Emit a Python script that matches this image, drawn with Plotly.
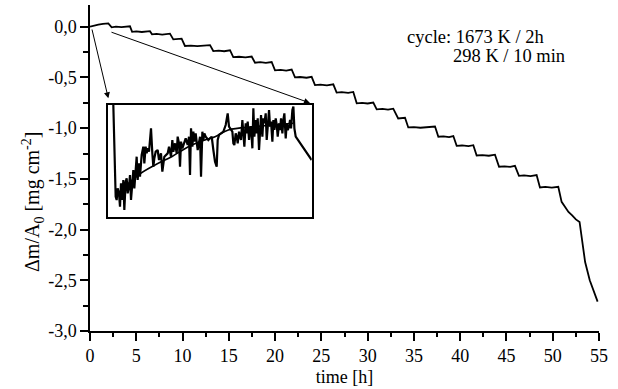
import plotly.graph_objects as go

# ---- main curve: time [h] vs mass change [mg cm^-2]
time_h = [0, 0.4, 0.9, 1.4, 1.98, 2.34, 2.8, 3.4, 3.9, 4.32, 4.55, 5.0, 5.6, 6.1, 6.48,
          6.7, 7.2, 7.8, 8.3, 8.64, 9.0, 9.5, 9.9, 10.26, 10.9, 11.6, 12.3, 12.97, 13.32,
          13.9, 14.5, 15.13, 15.48, 16.1, 16.8, 17.47, 17.83, 18.4, 19.0, 19.63, 19.99,
          20.6, 21.2, 21.79, 22.15, 22.7, 23.4, 23.95, 24.31, 24.9, 25.6, 26.29, 26.65,
          27.2, 27.9, 28.45, 28.82, 29.4, 30.0, 30.61, 30.98, 31.6, 32.2, 32.77, 33.3,
          33.7, 34.04, 34.39, 35.0, 35.7, 36.5, 37.28, 37.64, 38.2, 38.8, 39.26, 39.62,
          40.2, 40.9, 41.42, 41.78, 42.4, 43.1, 43.76, 44.2, 44.8, 45.4, 45.92, 46.35,
          46.9, 47.6, 48.26, 48.62, 49.2, 49.9, 50.6, 50.96, 51.3, 51.7, 52.1, 52.5,
          52.9, 53.15, 53.5, 54.0, 54.4, 54.85]
mass = [0.0, 0.012, 0.02, 0.028, 0.033, -0.006, 0.0, -0.004, 0.002, 0.004, -0.05, -0.046,
        -0.052, -0.047, -0.044, -0.075, -0.071, -0.077, -0.072, -0.068, -0.125, -0.122,
        -0.118, -0.19, -0.186, -0.192, -0.185, -0.182, -0.24, -0.236, -0.242, -0.232,
        -0.30, -0.296, -0.302, -0.294, -0.355, -0.35, -0.357, -0.348, -0.43, -0.426,
        -0.432, -0.422, -0.50, -0.496, -0.503, -0.494, -0.575, -0.571, -0.578, -0.568,
        -0.65, -0.645, -0.652, -0.643, -0.755, -0.751, -0.757, -0.748, -0.815, -0.811,
        -0.817, -0.808, -0.905, -0.902, -0.898, -0.993, -0.99, -0.996, -0.988, -0.984,
        -1.085, -1.081, -1.088, -1.078, -1.175, -1.171, -1.178, -1.168, -1.27, -1.266,
        -1.272, -1.262, -1.38, -1.376, -1.382, -1.372, -1.47, -1.466, -1.473, -1.463,
        -1.585, -1.58, -1.587, -1.578, -1.727, -1.77, -1.826, -1.86, -1.90, -1.925,
        -2.10, -2.32, -2.50, -2.60, -2.71]

# ---- inset: first cycle, time [min] vs mass gain [ug cm^-2] (arbitrary offset)
inset_t = [3.0, 4.4, 5.0, 5.6, 6.4, 7.0, 7.6, 8.4, 9.0, 9.6,
           10.4, 11.0, 11.6, 12.4, 13.0, 13.6, 14.4, 15.0, 15.6, 16.4,
           17.0, 17.6, 18.4, 19.0, 20.0, 21.0, 21.6, 22.4, 23.0, 23.6,
           24.4, 25.0, 25.6, 26.4, 27.0, 27.6, 28.4, 29.6, 30.4, 31.6,
           32.4, 33.6, 34.4, 35.6, 36.4, 37.6, 38.4, 39.0, 40.0, 41.0,
           41.6, 42.4, 43.0, 43.6, 44.4, 45.6, 46.4, 47.6, 48.4, 49.0,
           49.6, 50.4, 51.0, 51.6, 52.4, 53.6, 54.4, 55.0, 55.6, 56.4,
           57.0, 57.6, 58.4, 59.0, 60.0, 61.0, 62.0, 63.0, 64.0, 65.0,
           65.6, 66.4, 67.6, 69.0, 70.4, 71.6, 72.4, 73.6, 74.4, 75.0,
           75.6, 76.4, 77.0, 77.6, 78.4, 79.0, 79.6, 80.4, 81.0, 81.6,
           82.4, 83.0, 83.6, 84.4, 85.0, 85.6, 86.4, 87.0, 87.6, 88.4,
           89.0, 89.6, 90.4, 91.0, 91.6, 92.4, 93.0, 93.6, 94.4, 95.0,
           95.6, 96.4, 97.0, 97.6, 98.4, 99.0, 99.6, 100.4, 101.0, 101.6,
           102.4, 103.0, 103.6, 104.4, 105.0, 105.6, 106.4, 107.0, 107.6, 108.4,
           109.0, 109.6, 110.4, 111.0, 111.6, 112.4, 122.0]
inset_m = [67, 12, 10, 17, 14, 6, 20, 10, 22, 4,
           21, 23, 14, 18, 25, 10, 20, 28, 17, 30,
           36, 22, 32, 24, 37, 42, 32, 42, 38, 41,
           39, 46, 53, 38, 30, 35, 39, 40, 34, 38,
           27, 36, 37, 38, 42, 36, 46, 39, 44, 38,
           48, 44, 30, 45, 41, 44, 47, 43, 48, 25,
           53, 42, 51, 45, 50, 40, 46, 48, 24, 51,
           46, 50, 48, 47, 46, 47, 48, 40, 33, 30,
           46, 49, 50, 51, 55, 62, 54, 52, 51, 44,
           43, 50, 48, 44, 51, 48, 46, 58, 49, 42,
           56, 50, 57, 46, 52, 54, 41, 65, 48, 58,
           50, 59, 40, 55, 61, 48, 59, 56, 62, 46,
           56, 64, 54, 57, 45, 58, 52, 59, 55, 48,
           56, 52, 59, 50, 58, 62, 47, 56, 52, 54,
           58, 53, 64, 66, 53, 48, 34]
fit_t = [5, 18, 28, 38, 48, 58, 64, 72, 88, 111]
fit_m = [13, 25, 31, 36, 42, 46, 48, 52, 54, 56]

# ---- tick labels
y_tickvals = [0.0, -0.5, -1.0, -1.5, -2.0, -2.5, -3.0]
y_ticktext = ["0,0", "-0,5", "-1,0", "-1,5", "-2,0", "-2,5", "-3,0"]
y_minor = [-0.25, -0.75, -1.25, -1.75, -2.25, -2.75]

FONT = "Liberation Serif, Times New Roman, serif"
BLACK = "#000000"

fig = go.Figure()
fig.add_trace(go.Scatter(x=time_h, y=mass, mode="lines",
                         line=dict(color=BLACK, width=1.8), showlegend=False))
fig.add_trace(go.Scatter(x=inset_t, y=inset_m, mode="lines", xaxis="x2", yaxis="y2",
                         line=dict(color=BLACK, width=2.2), showlegend=False))
fig.add_trace(go.Scatter(x=fit_t, y=fit_m, mode="lines", xaxis="x2", yaxis="y2",
                         line=dict(color=BLACK, width=1.6, shape="spline"),
                         showlegend=False))

axis_common = dict(showline=True, linecolor=BLACK, linewidth=1.5, showgrid=False,
                   zeroline=False, ticks="outside", tickcolor=BLACK, tickwidth=1.5,
                   ticklen=8, tickfont=dict(family=FONT, size=18, color=BLACK))

fig.update_layout(
    width=618, height=389,
    margin=dict(l=90, r=19, t=5, b=58),
    paper_bgcolor="white", plot_bgcolor="white",
    font=dict(family=FONT, size=18, color=BLACK),
    xaxis=dict(range=[0, 55], tick0=0, dtick=5,
               minor=dict(ticks="outside", ticklen=4, tickwidth=1.5, tickcolor=BLACK,
                          tick0=0, dtick=2.5),
               title=dict(text="time [h]", font=dict(family=FONT, size=18, color=BLACK),
                          standoff=5),
               **axis_common),
    yaxis=dict(range=[-3.0, 0.214], tickmode="array", tickvals=y_tickvals,
               ticktext=y_ticktext,
               minor=dict(ticks="outside", ticklen=5, tickwidth=1.5, tickcolor=BLACK,
                          tickmode="array", tickvals=y_minor),
               **axis_common),
    xaxis2=dict(domain=[0.036, 0.4356], anchor="y2", range=[0, 122], showline=True,
                mirror=True, linecolor=BLACK, linewidth=2, showgrid=False,
                zeroline=False, showticklabels=False, ticks=""),
    yaxis2=dict(domain=[0.3506, 0.6933], anchor="x2", range=[0, 67], showline=True,
                mirror=True, linecolor=BLACK, linewidth=2, showgrid=False,
                zeroline=False, showticklabels=False, ticks=""),
)

annotations = [
    dict(text="Δm/A<sub>0</sub> [mg cm<sup>-2</sup>]", xref="paper", yref="paper",
         x=(33 - 90) / 509, y=(331 - 202) / 326, textangle=-90, showarrow=False,
         xanchor="center", yanchor="middle",
         font=dict(family=FONT, size=20, color=BLACK)),
    dict(text="cycle: 1673 K / 2h", xref="x", yref="y", x=34.0, y=-0.102,
         xanchor="left", yanchor="middle", showarrow=False,
         font=dict(family=FONT, size=18.5, color=BLACK)),
    dict(text="298 K / 10 min", xref="x", yref="y", x=39.0, y=-0.29,
         xanchor="left", yanchor="middle", showarrow=False,
         font=dict(family=FONT, size=18.5, color=BLACK)),
    dict(text="", xref="x", yref="y", x=1.98, y=-0.706, axref="x", ayref="y",
         ax=0.18, ay=-0.013, showarrow=True, arrowhead=2, arrowsize=1.2,
         arrowwidth=1, arrowcolor=BLACK),
    dict(text="", xref="x", yref="y", x=23.77, y=-0.752, axref="x", ayref="y",
         ax=2.16, ay=-0.049, showarrow=True, arrowhead=2, arrowsize=1.2,
         arrowwidth=1, arrowcolor=BLACK),
]
fig.update_layout(annotations=annotations)

fig.write_html("out.html")
